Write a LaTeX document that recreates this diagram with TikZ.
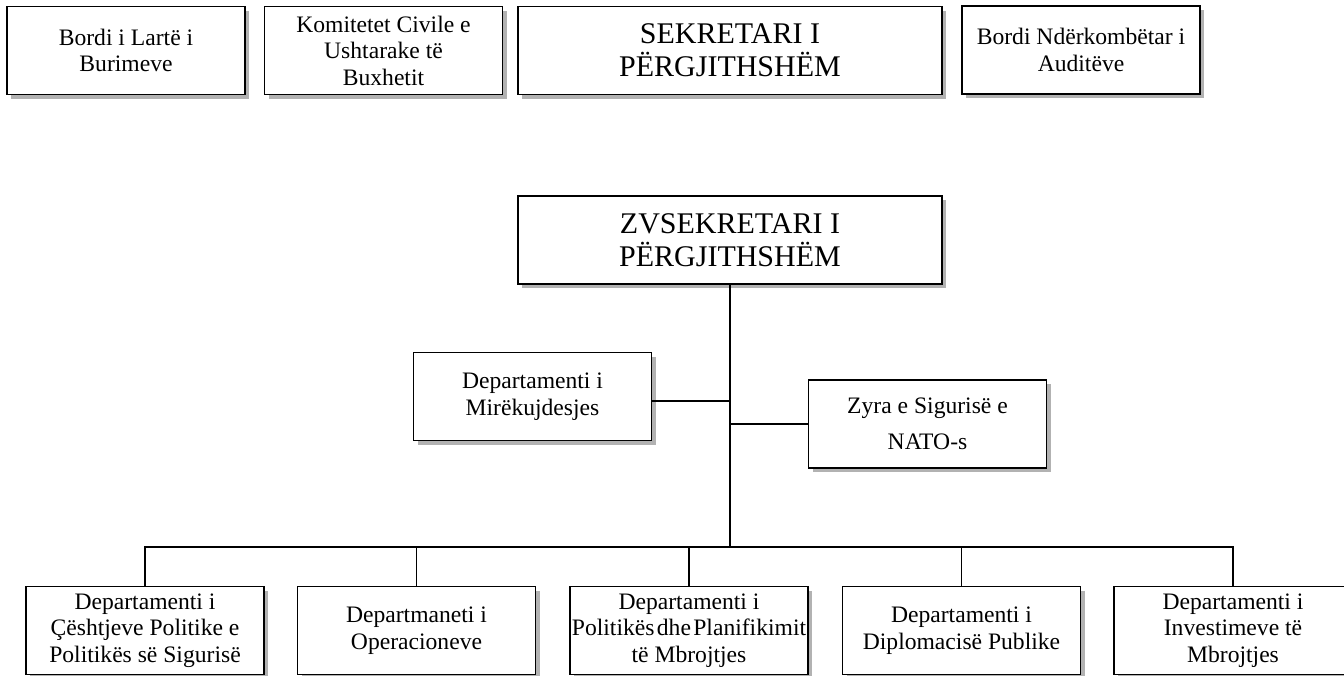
\documentclass[tikz,border=0pt]{standalone}
\usepackage{fontspec}
\setmainfont{Liberation Serif}
\usetikzlibrary{shadows}

\begin{document}
\begin{tikzpicture}
        [x=0.75pt, y=-0.75pt,
        box/.style={draw, fill=white, line width=1pt, align=center,
            minimum width=178.5pt, minimum height=66pt,
            drop shadow={shadow xshift=3pt, shadow yshift=-3pt, fill=black!30, opacity=1},
            font=\fontsize{17.7}{19.9}\selectfont},
        big/.style={box, minimum width=318pt, font=\fontsize{22.5}{24.75}\selectfont},
        edge/.style={line width=1pt, black},
        inner sep=0pt]

        \useasboundingbox (0,0) rectangle (1344,675);
        \clip (0,0) rectangle (1344,675);

        % top row
        \node[box] (bl) at (126,50.5) {Bordi i Lartë i\\Burimeve};
        \node[box] (kc) at (383.5,50.5) {Komitetet Civile e\\Ushtarake të\\Buxhetit};
        \node[big] (sp) at (730,50.5) {SEKRETARI I\\PËRGJITHSHËM};
        \node[box] (bn) at (1081,50) {Bordi Ndërkombëtar i\\Auditëve};

        % deputy and offices
        \node[big] (zv) at (730,240) {ZVSEKRETARI I\\PËRGJITHSHËM};
        \node[box] (dm) at (532.5,396.5) {Departamenti i\\Mirëkujdesjes};
        \node[box, font=\fontsize{17.7}{27}\selectfont] (zs) at (927.5,424) {Zyra e Sigurisë e\\NATO-s};

        % departments
        \node[box] (d1) at (145,630.5) {Departamenti i\\Çështjeve Politike e\\Politikës së Sigurisë};
        \node[box] (d2) at (416.5,630.5) {Departmaneti i\\Operacioneve};
        \node[box] (d3) at (689,630.5) {Departamenti i\\Politikës\hspace{.1em}dhe\hspace{.1em}Planifikimit\\të Mbrojtjes};
        \node[box] (d4) at (961.5,630.5) {Departamenti i\\Diplomacisë Publike};
        \node[box] (d5) at (1233,630.5) {Departamenti i\\Investimeve të\\Mbrojtjes};

        \coordinate (bus) at (730,547);
        \coordinate (dmx) at ([yshift=-3.4pt]dm.east);

        \draw[edge] (zv) -- (bus);
        \draw[edge] (dmx) -- (dmx -| zv);
        \draw[edge] (zs) -- (zs -| zv);
        \draw[edge] (d1.north) |- (bus) -| (d5.north);
        \foreach \n in {d2,d3,d4}
            \draw[edge] (\n) -- (\n |- bus);
    \end{tikzpicture}
\end{document}
